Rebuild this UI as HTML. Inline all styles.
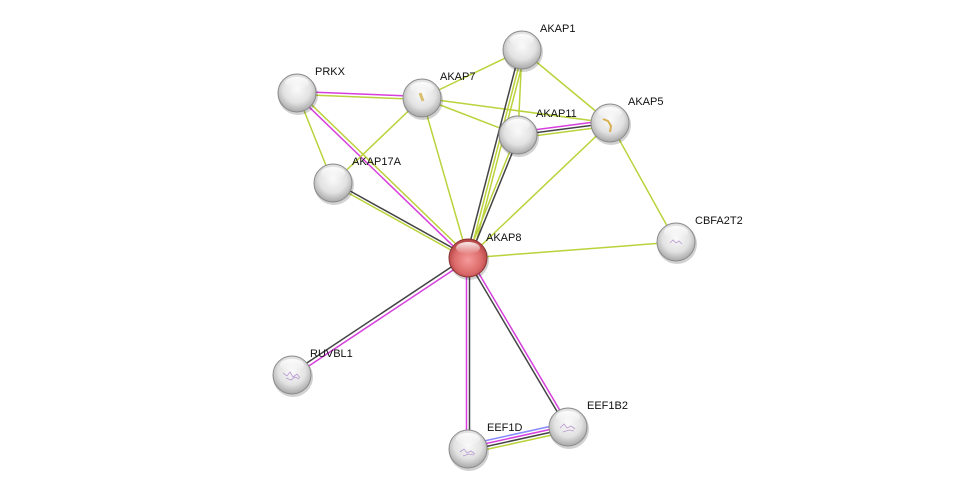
<!DOCTYPE html>
<html><head><meta charset="utf-8"><style>
html,body{margin:0;padding:0;background:#fff;width:976px;height:494px;overflow:hidden}
text{font-family:"Liberation Sans",Arial,sans-serif;font-size:11px;fill:#111}
</style></head><body>
<svg width="976" height="494" viewBox="0 0 976 494" xmlns="http://www.w3.org/2000/svg">
<defs>
<radialGradient id="g" cx="50%" cy="40%" r="60%">
<stop offset="0" stop-color="#fafafa"/><stop offset="0.6" stop-color="#e2e2e2"/><stop offset="1" stop-color="#a8a8a8"/></radialGradient>
<radialGradient id="r" cx="50%" cy="55%" r="60%">
<stop offset="0" stop-color="#f59a9a"/><stop offset="0.6" stop-color="#dc6b6b"/><stop offset="1" stop-color="#a53838"/></radialGradient>
<linearGradient id="hl" x1="0" y1="0" x2="0" y2="1"><stop offset="0" stop-color="#fff" stop-opacity="0.9"/><stop offset="1" stop-color="#fff" stop-opacity="0"/></linearGradient>
</defs>
<g stroke-width="1.5" fill="none">
<!-- PRKX-AKAP7 -->
<line x1="297" y1="91.5" x2="422" y2="96.5" stroke="#d63fdc"/>
<line x1="297" y1="94.5" x2="422" y2="99.5" stroke="#bcd23c"/>
<!-- PRKX-AKAP8 -->
<line x1="295.8" y1="94.2" x2="466.8" y2="259.2" stroke="#d63fdc"/>
<line x1="298.2" y1="91.8" x2="469.2" y2="256.8" stroke="#bcd23c"/>
<line x1="297" y1="93" x2="333" y2="183" stroke="#bcd23c"/>
<line x1="422" y1="98" x2="522" y2="50" stroke="#bcd23c"/>
<line x1="422" y1="98" x2="518" y2="135" stroke="#bcd23c"/>
<line x1="422" y1="98" x2="610" y2="123" stroke="#bcd23c"/>
<line x1="422" y1="98" x2="333" y2="183" stroke="#bcd23c"/>
<line x1="422" y1="98" x2="468" y2="258" stroke="#bcd23c"/>
<!-- AKAP1-AKAP8 -->
<line x1="520" y1="50" x2="466" y2="258" stroke="#444"/>
<line x1="523" y1="50" x2="469" y2="258" stroke="#bcd23c"/>
<line x1="526" y1="50" x2="472" y2="258" stroke="#bcd23c"/>
<!-- AKAP11-AKAP8 -->
<line x1="519.5" y1="135" x2="469.5" y2="258" stroke="#444"/>
<line x1="516.5" y1="135" x2="466.5" y2="258" stroke="#bcd23c"/>
<line x1="522" y1="50" x2="518" y2="135" stroke="#bcd23c"/>
<line x1="522" y1="50" x2="610" y2="123" stroke="#bcd23c"/>
<!-- AKAP11-AKAP5 -->
<line x1="518" y1="132" x2="610" y2="120" stroke="#d63fdc"/>
<line x1="518" y1="135" x2="610" y2="123" stroke="#444"/>
<line x1="518" y1="138" x2="610" y2="126" stroke="#bcd23c"/>
<line x1="610" y1="123" x2="468" y2="258" stroke="#bcd23c"/>
<line x1="610" y1="123" x2="676" y2="242" stroke="#bcd23c"/>
<line x1="468" y1="258" x2="676" y2="242" stroke="#bcd23c"/>
<!-- AKAP17A-AKAP8 -->
<line x1="333" y1="181.5" x2="468" y2="256.5" stroke="#444"/>
<line x1="333" y1="184.5" x2="468" y2="259.5" stroke="#bcd23c"/>
<!-- RUVBL1 -->
<line x1="291" y1="373.5" x2="467" y2="256.5" stroke="#444"/>
<line x1="293" y1="376.5" x2="469" y2="259.5" stroke="#d63fdc"/>
<!-- EEF1D -->
<line x1="466.5" y1="258" x2="466.5" y2="449" stroke="#d63fdc"/>
<line x1="469.5" y1="258" x2="469.5" y2="449" stroke="#444"/>
<!-- EEF1B2 -->
<line x1="466.7" y1="258.8" x2="566.7" y2="427.8" stroke="#444"/>
<line x1="469.3" y1="257.2" x2="569.3" y2="426.2" stroke="#d63fdc"/>
<!-- EEF1D-EEF1B2 -->
<line x1="468" y1="444.5" x2="568" y2="422.5" stroke="#8888ff"/>
<line x1="468" y1="447.5" x2="568" y2="425.5" stroke="#d63fdc"/>
<line x1="468" y1="450.5" x2="568" y2="428.5" stroke="#444"/>
<line x1="468" y1="453.5" x2="568" y2="431.5" stroke="#bcd23c"/>
</g>
<g>
<g fill="#000" opacity="0.18">
<circle cx="523" cy="52" r="20"/><circle cx="298" cy="95" r="20"/><circle cx="423" cy="100" r="20"/><circle cx="519" cy="137" r="20"/><circle cx="611" cy="125" r="20"/><circle cx="334" cy="185" r="20"/><circle cx="469" cy="260" r="20"/><circle cx="677" cy="244" r="20"/><circle cx="293" cy="377" r="20"/><circle cx="469" cy="451" r="20"/><circle cx="569" cy="429" r="20"/>
</g>
<g fill="url(#g)" stroke="#8a8a8a" stroke-width="1">
<circle cx="522" cy="50" r="19"/><circle cx="297" cy="93" r="19"/><circle cx="422" cy="98" r="19"/><circle cx="518" cy="135" r="19"/><circle cx="610" cy="123" r="19"/><circle cx="333" cy="183" r="19"/><circle cx="676" cy="242" r="19"/><circle cx="292" cy="375" r="19"/><circle cx="468" cy="449" r="19"/><circle cx="568" cy="427" r="19"/>
</g>
<circle cx="468" cy="258" r="19" fill="url(#r)" stroke="#8a3030" stroke-width="1"/>
<g fill="url(#hl)">
<ellipse cx="522" cy="40" rx="12" ry="6"/><ellipse cx="297" cy="83" rx="12" ry="6"/><ellipse cx="422" cy="88" rx="12" ry="6"/><ellipse cx="518" cy="125" rx="12" ry="6"/><ellipse cx="610" cy="113" rx="12" ry="6"/><ellipse cx="333" cy="173" rx="12" ry="6"/><ellipse cx="468" cy="248" rx="12" ry="6"/><ellipse cx="676" cy="232" rx="12" ry="6"/><ellipse cx="292" cy="365" rx="12" ry="6"/><ellipse cx="468" cy="439" rx="12" ry="6"/><ellipse cx="568" cy="417" rx="12" ry="6"/>
</g>
<g stroke="#b89ad0" stroke-width="0.8" fill="none">
<path d="M283 373 l4 3 l3 -4 l3 5 l4 -3 l3 4"/><path d="M286 378 l5 2 l4 -3 l4 2"/>
<path d="M460 452 l4 -3 l3 4 l4 -2 l4 3"/><path d="M463 456 l6 -2 l5 1"/>
<path d="M560 428 l4 -4 l3 4 l4 -2 l4 3"/><path d="M563 432 l6 -2 l5 1"/>
<path d="M670 243 l3 -3 l3 3 l3 -2 l3 3"/>
</g>
<path d="M420 93 l3 8" stroke="#d8c070" stroke-width="3"/>
<path d="M603 119 l5 2 l3 5 l-1 6" stroke="#d8b050" stroke-width="2" fill="none"/>
</g>
<text x="540" y="32">AKAP1</text>
<text x="315" y="75">PRKX</text>
<text x="440" y="80">AKAP7</text>
<text x="536" y="117">AKAP11</text>
<text x="628" y="105">AKAP5</text>
<text x="352" y="165">AKAP17A</text>
<text x="486" y="241">AKAP8</text>
<text x="695" y="224">CBFA2T2</text>
<text x="310" y="357">RUVBL1</text>
<text x="487" y="431">EEF1D</text>
<text x="587" y="409">EEF1B2</text>
</svg>
</body></html>
